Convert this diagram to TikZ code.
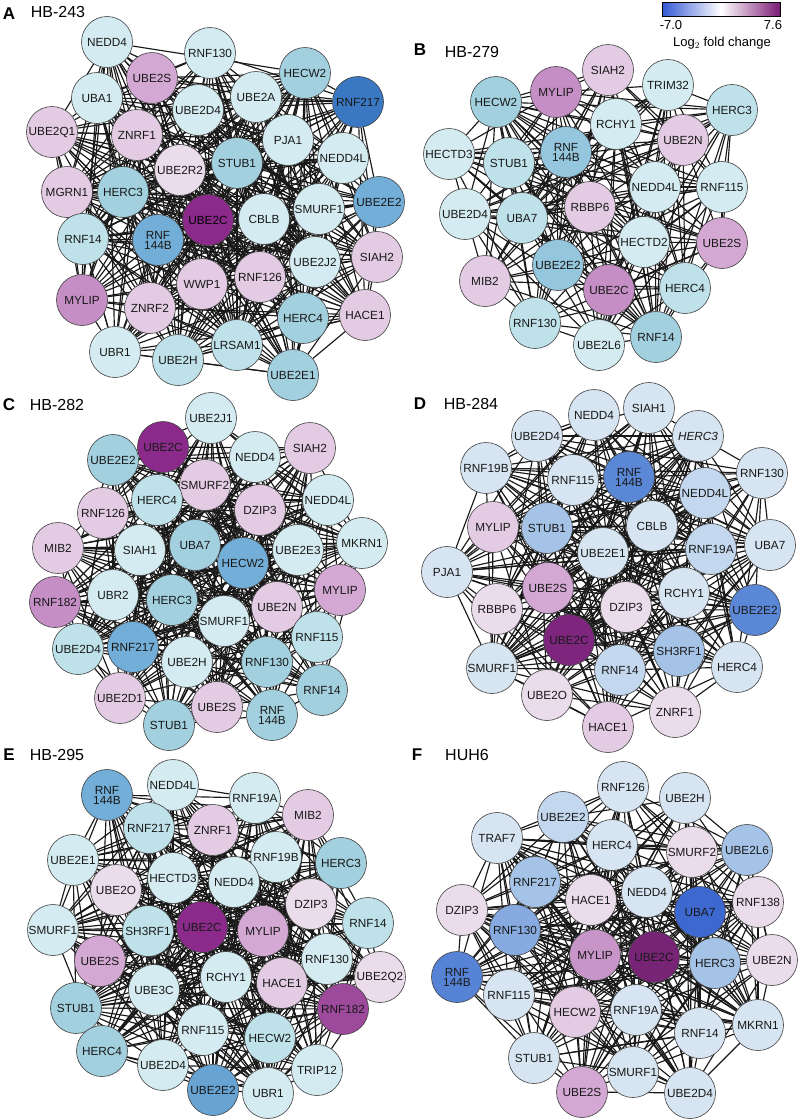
\documentclass[tikz,border=0pt]{standalone}
\usepackage{fontspec}
\setmainfont{Liberation Sans}
\pgfdeclarelayer{back}
\pgfdeclarelayer{bg}
\pgfsetlayers{back,bg,main}
\definecolor{c1}{HTML}{D4ECF1}
\definecolor{c2}{HTML}{BFE2EA}
\definecolor{c3}{HTML}{A2D0DF}
\definecolor{c4}{HTML}{72AED7}
\definecolor{c5}{HTML}{3B78C4}
\definecolor{p1}{HTML}{EBDCEB}
\definecolor{p2}{HTML}{E3CBE3}
\definecolor{p3}{HTML}{D3A8D3}
\definecolor{p4}{HTML}{C58FC6}
\definecolor{p5}{HTML}{8C2A8C}
\definecolor{g1}{HTML}{D6E5F1}
\definecolor{g2}{HTML}{C3D8EE}
\definecolor{g3}{HTML}{A5C3E6}
\definecolor{g4}{HTML}{5A88D6}
\definecolor{g5}{HTML}{3D68CF}
\definecolor{cbblue}{HTML}{3358D4}
\definecolor{cbpurple}{HTML}{7A1A74}
\newcommand\netlinks[2]{%
  \foreach \i in {1,...,#2}{\foreach \j in {1,...,#2}{%
    \ifnum\i<\j\relax
      \pgfmathtruncatemacro\hh{mod(\i*\j+3*\i+5*\j,9)}%
      \ifnum\hh<6\relax \draw[lnk] (#1\i) -- (#1\j);\fi
    \fi}}}
\tikzset{
  nd/.style={circle, draw=black!75, line width=0.6pt, minimum size=51pt, inner sep=0pt,
    align=center, font=\fontsize{11.8}{10}\selectfont, text=black!90},
  lnk/.style={line width=1.15pt, black!90},
  plet/.style={font=\bfseries\fontsize{17}{17}\selectfont},
  ptit/.style={font=\fontsize{16}{16}\selectfont},
}
\begin{document}
\begin{tikzpicture}[x=1pt,y=-1pt]
\useasboundingbox (0,0) rectangle (799,1119);
\begin{pgfonlayer}{back}
\fill[white] (0,0) rectangle (799,1119);
\end{pgfonlayer}
% colour bar
\shade[left color=cbblue, right color=cbpurple, middle color=white] (662,2) rectangle (780,16);
\draw[black, line width=0.6pt] (662,2) rectangle (780,16);
\node[font=\fontsize{13}{13}\selectfont] (cbmin) at (671,25) {-7.0};
\node[font=\fontsize{13}{13}\selectfont] (cbmax) at (773,25) {7.6};
\node[font=\fontsize{13}{13}\selectfont] (cblab) at (722,43) {Log$_2$ fold change};
% titles
\node[plet] (tA) at (9,14) {A};   \node[ptit] (hA) at (58,12) {HB-243};
\node[plet] (tB) at (420,50) {B}; \node[ptit] (hB) at (472,52) {HB-279};
\node[plet] (tC) at (9,405) {C};  \node[ptit] (hC) at (57,405) {HB-282};
\node[plet] (tD) at (420,404) {D};\node[ptit] (hD) at (471,404) {HB-284};
\node[plet] (tE) at (9,755) {E};  \node[ptit] (hE) at (57,755) {HB-295};
\node[plet] (tF) at (417,755) {F};\node[ptit] (hF) at (467,755) {HUH6};
% ---------------- Panel A
\node[nd,fill=c1] (A1) at (107,42) {NEDD4};
\node[nd,fill=c1] (A2) at (210,53) {RNF130};
\node[nd,fill=p3] (A3) at (152,78) {UBE2S};
\node[nd,fill=c3] (A4) at (305,73) {HECW2};
\node[nd,fill=c5] (A5) at (358,102) {RNF217};
\node[nd,fill=c1] (A6) at (97,98) {UBA1};
\node[nd,fill=c1] (A7) at (198,110) {UBE2D4};
\node[nd,fill=c1] (A8) at (256,97) {UBE2A};
\node[nd,fill=p2] (A9) at (52,132) {UBE2Q1};
\node[nd,fill=p2] (A10) at (137,135) {ZNRF1};
\node[nd,fill=c1] (A11) at (288,140) {PJA1};
\node[nd,fill=c1] (A12) at (343,158) {NEDD4L};
\node[nd,fill=p1] (A13) at (180,170) {UBE2R2};
\node[nd,fill=c3] (A14) at (237,163) {STUB1};
\node[nd,fill=p2] (A15) at (67,192) {MGRN1};
\node[nd,fill=c3] (A16) at (123,192) {HERC3};
\node[nd,fill=c4] (A17) at (379,202) {UBE2E2};
\node[nd,fill=c1] (A18) at (319,209) {SMURF1};
\node[nd,fill=p5,text=black] (A19) at (208,220) {UBE2C};
\node[nd,fill=c1] (A20) at (264,219) {CBLB};
\node[nd,fill=c2] (A21) at (83,239) {RNF14};
\node[nd,fill=c4] (A22) at (158,240) {RNF\\144B};
\node[nd,fill=p2] (A23) at (377,257) {SIAH2};
\node[nd,fill=c1] (A24) at (315,262) {UBE2J2};
\node[nd,fill=p2] (A25) at (260,277) {RNF126};
\node[nd,fill=p2] (A26) at (202,284) {WWP1};
\node[nd,fill=p4] (A27) at (82,300) {MYLIP};
\node[nd,fill=p2] (A28) at (150,308) {ZNRF2};
\node[nd,fill=c3] (A29) at (303,318) {HERC4};
\node[nd,fill=p2] (A30) at (365,315) {HACE1};
\node[nd,fill=c1] (A31) at (115,352) {UBR1};
\node[nd,fill=c2] (A32) at (178,360) {UBE2H};
\node[nd,fill=c2] (A33) at (237,345) {LRSAM1};
\node[nd,fill=c3] (A34) at (293,375) {UBE2E1};
% ---------------- Panel B
\node[nd,fill=p2] (B1) at (608,70) {SIAH2};
\node[nd,fill=c1] (B2) at (668,85) {TRIM32};
\node[nd,fill=p4] (B3) at (556,92) {MYLIP};
\node[nd,fill=c3] (B4) at (496,102) {HECW2};
\node[nd,fill=c2] (B5) at (732,110) {HERC3};
\node[nd,fill=c1] (B6) at (616,124) {RCHY1};
\node[nd,fill=p2] (B7) at (683,140) {UBE2N};
\node[nd,fill=c1] (B8) at (449,154) {HECTD3};
\node[nd,fill=c2] (B9) at (509,163) {STUB1};
\node[nd,fill=c3!70!c4] (B10) at (566,152) {RNF\\144B};
\node[nd,fill=c1] (B11) at (655,187) {NEDD4L};
\node[nd,fill=c1] (B12) at (722,187) {RNF115};
\node[nd,fill=p2] (B13) at (590,207) {RBBP6};
\node[nd,fill=c1] (B14) at (465,214) {UBE2D4};
\node[nd,fill=c2] (B15) at (522,218) {UBA7};
\node[nd,fill=c1] (B16) at (644,242) {HECTD2};
\node[nd,fill=p3] (B17) at (722,243) {UBE2S};
\node[nd,fill=c3!70!c4] (B18) at (558,265) {UBE2E2};
\node[nd,fill=p2] (B19) at (485,281) {MIB2};
\node[nd,fill=p4] (B20) at (609,290) {UBE2C};
\node[nd,fill=c2] (B21) at (685,288) {HERC4};
\node[nd,fill=c2] (B22) at (535,323) {RNF130};
\node[nd,fill=c1] (B23) at (599,345) {UBE2L6};
\node[nd,fill=c3] (B24) at (656,337) {RNF14};
% ---------------- Panel C
\node[nd,fill=c1] (C1) at (211,418) {UBE2J1};
\node[nd,fill=p5] (C2) at (163,447) {UBE2C};
\node[nd,fill=c3] (C3) at (113,460) {UBE2E2};
\node[nd,fill=c1] (C4) at (255,457) {NEDD4};
\node[nd,fill=p2] (C5) at (310,448) {SIAH2};
\node[nd,fill=p2] (C6) at (205,485) {SMURF2};
\node[nd,fill=c2] (C7) at (157,500) {HERC4};
\node[nd,fill=p2] (C8) at (260,510) {DZIP3};
\node[nd,fill=c1] (C9) at (328,500) {NEDD4L};
\node[nd,fill=p2] (C10) at (103,513) {RNF126};
\node[nd,fill=p2] (C11) at (58,548) {MIB2};
\node[nd,fill=c1] (C12) at (140,550) {SIAH1};
\node[nd,fill=c3] (C13) at (195,545) {UBA7};
\node[nd,fill=c1] (C14) at (298,550) {UBE2E3};
\node[nd,fill=c1] (C15) at (362,543) {MKRN1};
\node[nd,fill=c4] (C16) at (243,563) {HECW2};
\node[nd,fill=p4] (C17) at (55,602) {RNF182};
\node[nd,fill=c1] (C18) at (113,595) {UBR2};
\node[nd,fill=c3] (C19) at (172,600) {HERC3};
\node[nd,fill=p3] (C20) at (340,590) {MYLIP};
\node[nd,fill=p2] (C21) at (277,607) {UBE2N};
\node[nd,fill=c1] (C22) at (224,621) {SMURF1};
\node[nd,fill=c2] (C23) at (317,637) {RNF115};
\node[nd,fill=c2] (C24) at (78,649) {UBE2D4};
\node[nd,fill=c4] (C25) at (133,647) {RNF217};
\node[nd,fill=c1] (C26) at (187,662) {UBE2H};
\node[nd,fill=c3] (C27) at (267,662) {RNF130};
\node[nd,fill=c3] (C28) at (322,690) {RNF14};
\node[nd,fill=p2] (C29) at (120,698) {UBE2D1};
\node[nd,fill=p2] (C30) at (217,707) {UBE2S};
\node[nd,fill=c3] (C31) at (272,715) {RNF\\144B};
\node[nd,fill=c3] (C32) at (169,725) {STUB1};
% ---------------- Panel D
\node[nd,fill=g1] (D1) at (649,408) {SIAH1};
\node[nd,fill=g1] (D2) at (594,415) {NEDD4};
\node[nd,fill=g1] (D3) at (537,436) {UBE2D4};
\node[nd,fill=g1] (D4) at (698,436) {\itshape HERC3};
\node[nd,fill=g1] (D5) at (486,468) {RNF19B};
\node[nd,fill=g1] (D6) at (573,480) {RNF115};
\node[nd,fill=g4] (D7) at (629,477) {RNF\\144B};
\node[nd,fill=g1] (D8) at (762,473) {RNF130};
\node[nd,fill=g2] (D9) at (705,493) {NEDD4L};
\node[nd,fill=p2] (D10) at (493,527) {MYLIP};
\node[nd,fill=g3] (D11) at (547,528) {STUB1};
\node[nd,fill=g1] (D12) at (652,526) {CBLB};
\node[nd,fill=g1] (D13) at (603,553) {UBE2E1};
\node[nd,fill=g2] (D14) at (711,549) {RNF19A};
\node[nd,fill=g1] (D15) at (770,545) {UBA7};
\node[nd,fill=g1] (D16) at (447,572) {PJA1};
\node[nd,fill=p3] (D17) at (548,588) {UBE2S};
\node[nd,fill=p1] (D18) at (626,607) {DZIP3};
\node[nd,fill=g1] (D19) at (684,593) {RCHY1};
\node[nd,fill=p1] (D20) at (497,609) {RBBP6};
\node[nd,fill=g4] (D21) at (755,610) {UBE2E2};
\node[nd,fill=p5!90!black] (D22) at (569,640) {UBE2C};
\node[nd,fill=g3] (D23) at (679,651) {SH3RF1};
\node[nd,fill=g1] (D24) at (492,668) {SMURF1};
\node[nd,fill=g2] (D25) at (620,670) {RNF14};
\node[nd,fill=g1] (D26) at (737,667) {HERC4};
\node[nd,fill=p1] (D27) at (547,695) {UBE2O};
\node[nd,fill=p1] (D28) at (675,712) {ZNRF1};
\node[nd,fill=p2] (D29) at (608,727) {HACE1};
% ---------------- Panel E
\node[nd,fill=c4] (E1) at (107,795) {RNF\\144B};
\node[nd,fill=c1] (E2) at (173,785) {NEDD4L};
\node[nd,fill=c1] (E3) at (255,798) {RNF19A};
\node[nd,fill=p2] (E4) at (308,815) {MIB2};
\node[nd,fill=c2] (E5) at (149,828) {RNF217};
\node[nd,fill=p2] (E6) at (213,830) {ZNRF1};
\node[nd,fill=c1] (E7) at (73,860) {UBE2E1};
\node[nd,fill=c1] (E8) at (276,857) {RNF19B};
\node[nd,fill=c3] (E9) at (341,863) {HERC3};
\node[nd,fill=c1] (E10) at (173,878) {HECTD3};
\node[nd,fill=c1] (E11) at (234,882) {NEDD4};
\node[nd,fill=p1] (E12) at (116,890) {UBE2O};
\node[nd,fill=p1] (E13) at (311,904) {DZIP3};
\node[nd,fill=c2] (E14) at (368,923) {RNF14};
\node[nd,fill=c1] (E15) at (53,930) {SMURF1};
\node[nd,fill=c2] (E16) at (148,931) {SH3RF1};
\node[nd,fill=p5] (E17) at (202,927) {UBE2C};
\node[nd,fill=p3] (E18) at (263,931) {MYLIP};
\node[nd,fill=p3] (E19) at (100,961) {UBE2S};
\node[nd,fill=c1] (E20) at (327,959) {RNF130};
\node[nd,fill=p1] (E21) at (380,977) {UBE2Q2};
\node[nd,fill=c1] (E22) at (226,977) {RCHY1};
\node[nd,fill=p2] (E23) at (282,983) {HACE1};
\node[nd,fill=c1] (E24) at (154,990) {UBE3C};
\node[nd,fill=p5!85!white] (E25) at (343,1009) {RNF182};
\node[nd,fill=c3] (E26) at (76,1008) {STUB1};
\node[nd,fill=c1] (E27) at (203,1030) {RNF115};
\node[nd,fill=c2] (E28) at (270,1038) {HECW2};
\node[nd,fill=c3] (E29) at (102,1051) {HERC4};
\node[nd,fill=c1] (E30) at (163,1065) {UBE2D4};
\node[nd,fill=c1] (E31) at (317,1070) {TRIP12};
\node[nd,fill=c4!80!c5] (E32) at (213,1090) {UBE2E2};
\node[nd,fill=c1] (E33) at (268,1093) {UBR1};
% ---------------- Panel F
\node[nd,fill=g1] (F1) at (623,787) {RNF126};
\node[nd,fill=g1] (F2) at (685,798) {UBE2H};
\node[nd,fill=g2] (F3) at (563,817) {UBE2E2};
\node[nd,fill=g1] (F4) at (497,838) {TRAF7};
\node[nd,fill=g1] (F5) at (612,845) {HERC4};
\node[nd,fill=p1] (F6) at (692,852) {SMURF2};
\node[nd,fill=g3] (F7) at (747,850) {UBE2L6};
\node[nd,fill=g3] (F8) at (535,882) {RNF217};
\node[nd,fill=g1] (F9) at (647,892) {NEDD4};
\node[nd,fill=p1] (F10) at (591,900) {HACE1};
\node[nd,fill=g5] (F11) at (700,912) {UBA7};
\node[nd,fill=p1] (F12) at (758,902) {RNF138};
\node[nd,fill=p1] (F13) at (462,910) {DZIP3};
\node[nd,fill=g3!60!g4] (F14) at (515,930) {RNF130};
\node[nd,fill=p3!85!p5] (F15) at (595,955) {MYLIP};
\node[nd,fill=p5!85!black] (F16) at (654,957) {UBE2C};
\node[nd,fill=g3] (F17) at (715,963) {HERC3};
\node[nd,fill=p1] (F18) at (772,960) {UBE2N};
\node[nd,fill=g4!85!g5] (F19) at (457,977) {RNF\\144B};
\node[nd,fill=g1] (F20) at (509,995) {RNF115};
\node[nd,fill=p2] (F21) at (575,1012) {HECW2};
\node[nd,fill=g1] (F22) at (636,1010) {RNF19A};
\node[nd,fill=g1] (F23) at (700,1033) {RNF14};
\node[nd,fill=g1] (F24) at (758,1025) {MKRN1};
\node[nd,fill=g1] (F25) at (534,1058) {STUB1};
\node[nd,fill=g1] (F26) at (633,1072) {SMURF1};
\node[nd,fill=p3] (F27) at (582,1092) {UBE2S};
\node[nd,fill=g1] (F28) at (690,1093) {UBE2D4};
% ---------------- edges
\begin{pgfonlayer}{bg}
\netlinks{A}{34}
\netlinks{B}{24}
\netlinks{C}{32}
\netlinks{D}{29}
\netlinks{E}{33}
\netlinks{F}{28}
\end{pgfonlayer}
\end{tikzpicture}
\end{document}
